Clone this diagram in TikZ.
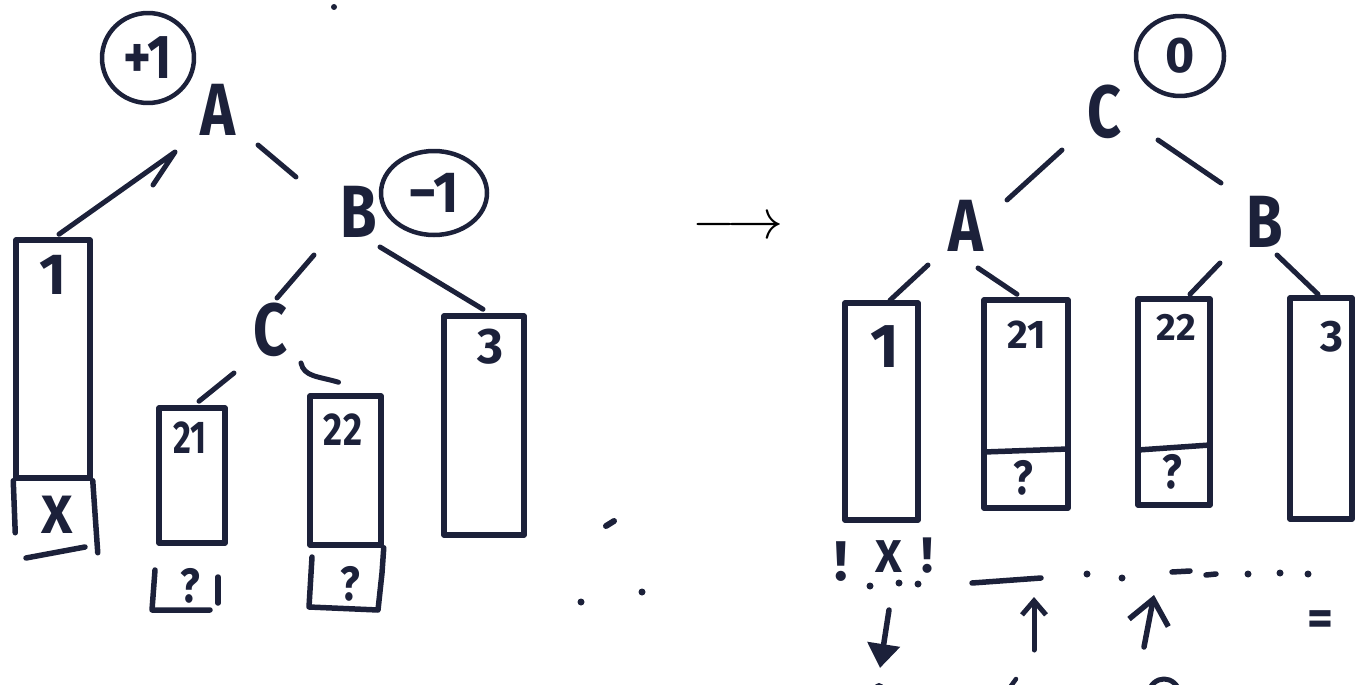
\documentclass[tikz,border=0pt]{standalone}
\usepackage{fontspec}
\setmainfont{Fira Sans}
\usetikzlibrary{shapes.geometric,arrows.meta}
\definecolor{ink}{RGB}{28,33,58}
\newcommand\fsz[1]{\fontsize{#1}{#1}\selectfont\bfseries}
\newcommand\hsq[2]{\scalebox{#1}[1]{#2}}
\begin{document}
\begin{tikzpicture}[x=1pt,y=-1pt, line cap=round, line join=round,
  edge/.style={draw=ink, line width=5pt},
  boxl/.style={draw=ink, line width=5.5pt},
  box/.style={draw=ink, line width=5.5pt, rectangle, inner sep=0pt},
  oval/.style={draw=ink, line width=4.5pt, ellipse, inner sep=0pt, text=ink},
  lbl/.style={text=ink, inner sep=0pt},
  lett/.style={text=ink, inner sep=0pt, font=\fsz{74}}]
\useasboundingbox (0,0) rectangle (1360,685);

% ---------------- left tree ----------------
\node[oval, minimum width=92pt, minimum height=90pt, font=\fsz{62}] (pL) at (148,58) {\hsq{0.85}{+1}};
\node[lett] (AL) at (218,110) {\hsq{0.8}{A}};
\node[lett] (BL) at (359,212) {\hsq{0.8}{B}};
\node[oval, minimum width=106pt, minimum height=84pt, font=\fsz{58}] (mL) at (434,193) {\hsq{0.95}{−1}};
\node[lett] (CL) at (271,330) {\hsq{0.8}{C}};

\node[box, minimum width=74pt, minimum height=238pt] (b1L) at (53,359) {};
\node[lbl, font=\fsz{58}] (t1L) at (53,275) {1};
\draw[boxl] (b1L.south west) -- ++(2,52);
\draw[boxl] (b1L.south east) -- ++(5,72);
\node[lbl, font=\fsz{54}] (xL) at (57,515) {X};
\draw[boxl] (26,558) -- (85,547);

\node[box, minimum width=66pt, minimum height=135pt] (b21L) at (192,475.5) {};
\node[lbl, font=\fsz{46}] (t21L) at (190,438) {\hsq{0.75}{21}};
\draw[boxl] (155,570) -- (152,610) -- (210,610);
\draw[boxl] (218,577) -- (218,603);
\node[lbl, font=\fsz{48}] (q21L) at (190,586) {\hsq{0.85}{?}};

\node[box, minimum width=71pt, minimum height=149pt] (b22L) at (345.5,470.5) {};
\node[lbl, font=\fsz{46}] (t22L) at (343,430) {\hsq{0.8}{22}};
\draw[boxl] (312,557) -- (309,607) -- (378,610) -- (382,573) -- (b22L.south east);
\node[lbl, font=\fsz{48}] (q22L) at (350,584) {\hsq{0.85}{?}};

\node[box, minimum width=80pt, minimum height=219pt] (b3L) at (484,425.5) {};
\node[lbl, font=\fsz{50}] (t3L) at (490,347) {3};

% edges left
\draw[edge] ([shift={(6,-3)}]b1L.north) -- ([shift={(-43,42)}]AL.center) -- +(-22,33);
\draw[edge] ([shift={(40,35)}]AL.center) -- ([shift={(-63,-35)}]BL.center);
\draw[edge] ([shift={(-45,43)}]BL.center) -- ([shift={(6,-32)}]CL.center);
\draw[edge] ([shift={(21,35)}]BL.center) -- ([shift={(-1,-4)}]b3L.north);
\draw[edge] ([shift={(-37,43)}]CL.center) -- ([shift={(7,-4)}]b21L.north);
\draw[edge] ([shift={(30,33)}]CL.center) .. controls +(3,14) and +(-20,-6) .. ([shift={(-7,-11)}]b22L.north);

% stray marks left
\fill[ink] (334,7) circle (3pt);
\draw[ink, line width=6pt] (606,526) -- (614,521);
\fill[ink] (581,602) circle (3.5pt);
\fill[ink] (642,592) circle (3.5pt);

% ---------------- arrow ----------------
\node[text=black, inner sep=0pt] (arr) at (738,228) {\scalebox{5.6}{$\longrightarrow$}};

% ---------------- right tree ----------------
\node[oval, minimum width=88pt, minimum height=80pt, font=\fsz{50}] (zR) at (1180,56) {0};
\node[lett] (CR) at (1105,112) {\hsq{0.8}{C}};
\node[lett] (AR) at (966,226) {\hsq{0.8}{A}};
\node[lett] (BR) at (1265,222) {\hsq{0.8}{B}};

\node[box, minimum width=73pt, minimum height=217pt] (b1R) at (881.5,411.5) {};
\node[lbl, font=\fsz{62}] (t1R) at (885,347) {1};

\node[box, minimum width=84pt, minimum height=208pt] (b21R) at (1026,404) {};
\node[lbl, font=\fsz{40}] (t21R) at (1027,335) {21};
\draw[boxl] (984,452) -- (1068,449);
\node[lbl, font=\fsz{48}] (q21R) at (1023,478) {\hsq{0.85}{?}};

\node[box, minimum width=72pt, minimum height=206pt] (b22R) at (1174,402) {};
\node[lbl, font=\fsz{38}] (t22R) at (1176,327) {22};
\draw[boxl] (1138,450) -- (1210,445);
\node[lbl, font=\fsz{48}] (q22R) at (1172,472) {\hsq{0.85}{?}};

\node[box, minimum width=62pt, minimum height=221pt] (b3R) at (1321,408.5) {};
\node[lbl, font=\fsz{44}] (t3R) at (1332,337) {3};

% edges right
\draw[edge] ([shift={(-43,38)}]CR.center) -- ([shift={(41,-26)}]AR.center);
\draw[edge] ([shift={(53,28)}]CR.center) -- ([shift={(-44,-39)}]BR.center);
\draw[edge] ([shift={(-38,39)}]AR.center) -- ([shift={(8.5,0)}]b1R.north);
\draw[edge] ([shift={(12,42)}]AR.center) -- ([shift={(-9,-3)}]b21R.north);
\draw[edge] ([shift={(-45,41)}]BR.center) -- ([shift={(16,-2)}]b22R.north);
\draw[edge] ([shift={(12,33)}]BR.center) -- ([shift={(-3,-1)}]b3R.north);

% bottom annotations
\node[lbl, font=\fsz{56}] (ex1) at (841,562) {!};
\node[lbl, font=\fsz{46}] (xR) at (889,557) {X};
\node[lbl, font=\fsz{50}] (ex2) at (927,556) {!};
\foreach \p in {(870,586),(899,583),(918,584),(1087,574),(1122,578),(1248,574),(1280,573),(1308,574)}
  \fill[ink] \p circle (3.5pt);
\draw[ink, line width=5.5pt] (972,583) -- (1041,578);
\draw[ink, line width=5.5pt] (1172,572) -- (1190,571);
\draw[ink, line width=5.5pt] (1206,575) -- (1216,574);

\coordinate (d1) at (889,610); \coordinate (d2) at (880,668);
\draw[ink, line width=5.5pt, -{Triangle[length=24pt,width=32pt]}] (d1) -- (d2);
\coordinate (u1a) at (1034,650); \coordinate (u1b) at (1034,597);
\draw[ink, line width=5pt, -{Straight Barb[length=14pt,width=24pt]}] (u1a) -- (u1b);
\coordinate (u2a) at (1144,647); \coordinate (u2b) at (1154,595);
\draw[ink, line width=5.5pt, -{Straight Barb[length=24pt,width=40pt]}] (u2a) -- (u2b);
\node[lbl, font=\fsz{50}] (eq) at (1320,623) {=};

% clipped marks at the lower edge
\fill[ink] (879,688) circle (5pt);
\draw[ink, line width=4.5pt] (1008,690) -- (1016,679);
\draw[ink, line width=5pt] (1148,694) .. controls (1152,674) and (1176,674) .. (1180,694);
\end{tikzpicture}
\end{document}
